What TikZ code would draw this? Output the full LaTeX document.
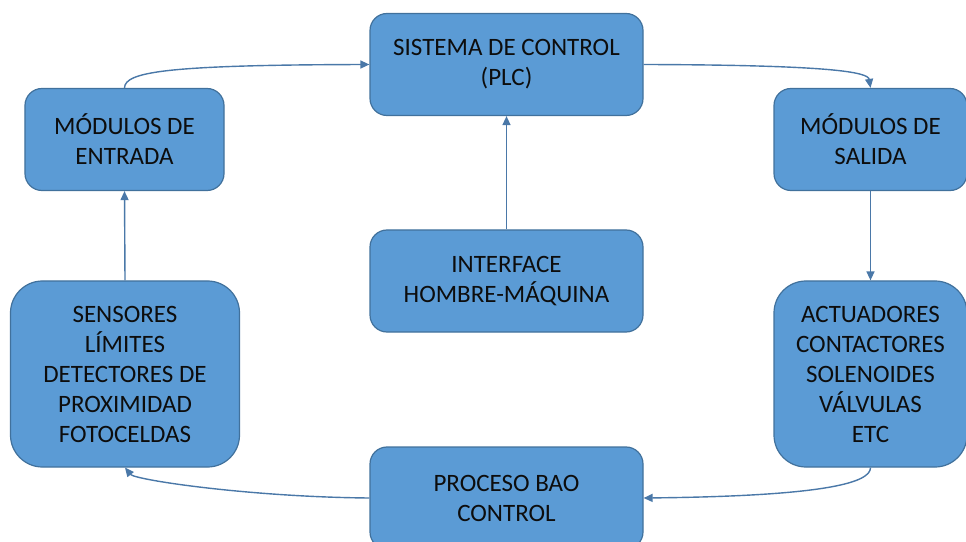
\documentclass[tikz,border=0pt]{standalone}
\usepackage{fontspec}
\setmainfont{Carlito}
\usetikzlibrary{arrows.meta}
\definecolor{boxfill}{HTML}{5B9BD5}
\definecolor{boxline}{HTML}{41719C}
\definecolor{linkcol}{HTML}{4A78A8}
\begin{document}
\begin{tikzpicture}[x=1bp,y=-1bp,
  blockbox/.style={draw=boxline,fill=boxfill,line width=1.2bp,inner sep=0pt,
    align=center,font=\fontsize{25bp}{30bp}\selectfont,text=black!95},
  smallbox/.style={blockbox,rounded corners=17bp},
  tallbox/.style={blockbox,rounded corners=32bp},
  link/.style={draw=linkcol,line width=1.4bp,-{Triangle[length=9bp,width=8bp]}}]
\useasboundingbox (0,0) rectangle (966,542);
% blocks
\node[smallbox,minimum width=273bp,minimum height=102bp] (plc) at (506.5,64.5) {SISTEMA DE CONTROL\\(PLC)};
\node[smallbox,minimum width=199bp,minimum height=102bp] (in) at (124.5,139.5) {MÓDULOS DE\\ENTRADA};
\node[smallbox,minimum width=193bp,minimum height=102bp] (out) at (870.5,139.5) {MÓDULOS DE\\SALIDA};
\node[smallbox,minimum width=273bp,minimum height=102bp] (hmi) at (506.5,281) {INTERFACE\\HOMBRE-MÁQUINA};
\node[tallbox,minimum width=229bp,minimum height=186bp] (sens) at (125,374) {SENSORES\\LÍMITES\\DETECTORES DE\\PROXIMIDAD\\FOTOCELDAS};
\node[tallbox,minimum width=193bp,minimum height=186bp] (act) at (870.5,374) {ACTUADORES\\CONTACTORES\\SOLENOIDES\\VÁLVULAS\\ETC};
\node[smallbox,minimum width=273bp,minimum height=102bp] (proc) at (506.5,498) {PROCESO BAO\\CONTROL};
% connectors
\path[link] (in.north) .. controls (125,72) and (165,65) .. (plc.west);
\path[link] (plc.east) .. controls (830,65) and (868,72) .. (out.north);
\path[link] (out.south) -- (act.north);
\path[link] (hmi.north) -- (plc.south);
\path[link] (sens.north) -- (in.south);
\path[link] (act.south) .. controls (870.5,482) and (830,496) .. (proc.east);
\path[link] (proc.west) .. controls (250,497) and (135,480) .. (sens.south);
\end{tikzpicture}
\end{document}
